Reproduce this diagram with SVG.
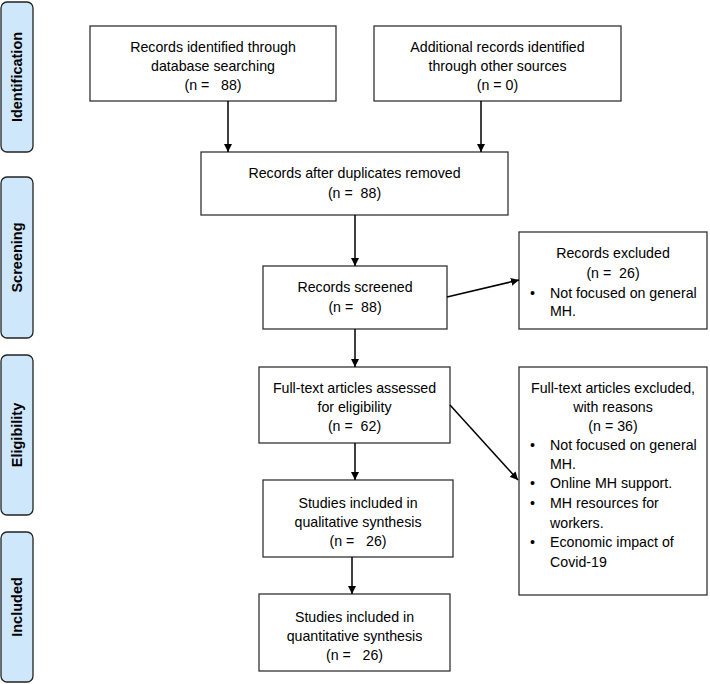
<svg xmlns="http://www.w3.org/2000/svg" width="710" height="684" viewBox="0 0 710 684">
<defs>
<marker id="ah" viewBox="0 0 10 10" refX="10" refY="5" markerWidth="8" markerHeight="8" markerUnits="userSpaceOnUse" orient="auto">
<path d="M0,0 L10,5 L0,10 z" fill="#000"/>
</marker>
<style>
.box{fill:#fff;stroke:#333;stroke-width:1.3}
.side{fill:#cfe7fb;stroke:#222;stroke-width:1.3}
.t{font-family:"Liberation Sans",Arial,sans-serif;font-size:14.2px;fill:#000;text-anchor:middle;white-space:pre}
.l{font-family:"Liberation Sans",Arial,sans-serif;font-size:14.2px;fill:#000;white-space:pre}
.s{font-family:"Liberation Sans",Arial,sans-serif;font-size:14.5px;font-weight:bold;fill:#000;text-anchor:middle}
.c{stroke:#000;stroke-width:1.5;fill:none;marker-end:url(#ah)}
</style>
</defs>
<rect width="710" height="684" fill="#fff"/>
<g id="side-identification"><rect class="side" x="1" y="2" width="32" height="150" rx="6"/><text class="s" transform="translate(22,77) rotate(-90)">Identification</text></g>
<g id="side-screening"><rect class="side" x="1" y="177" width="32" height="161" rx="6"/><text class="s" transform="translate(22,257.5) rotate(-90)">Screening</text></g>
<g id="side-eligibility"><rect class="side" x="1" y="355" width="32" height="160" rx="6"/><text class="s" transform="translate(22,435) rotate(-90)">Eligibility</text></g>
<g id="side-included"><rect class="side" x="1" y="532" width="32" height="150" rx="6"/><text class="s" transform="translate(22,607) rotate(-90)">Included</text></g>

<g id="n1"><rect class="box" x="90" y="26" width="246" height="75"/>
<text class="t" x="213" y="52">Records identified through</text>
<text class="t" x="213" y="71">database searching</text>
<text class="t" x="213" y="90">(n =   88)</text></g>
<g id="n2"><rect class="box" x="374" y="26" width="247" height="75"/>
<text class="t" x="497.5" y="52">Additional records identified</text>
<text class="t" x="497.5" y="71">through other sources</text>
<text class="t" x="497.5" y="90">(n = 0)</text></g>
<g id="n3"><rect class="box" x="201" y="152" width="307" height="63"/>
<text class="t" x="354.5" y="178">Records after duplicates removed</text>
<text class="t" x="354.5" y="198">(n =  88)</text></g>
<g id="n4"><rect class="box" x="263" y="266" width="184" height="63"/>
<text class="t" x="355" y="292">Records screened</text>
<text class="t" x="355" y="312">(n =  88)</text></g>
<g id="n5"><rect class="box" x="519" y="232" width="188" height="97"/>
<text class="t" x="613" y="258">Records excluded</text>
<text class="t" x="613" y="278">(n =  26)</text>
<text class="l" x="530" y="298">•</text>
<text class="l" x="550" y="298">Not focused on general</text>
<text class="l" x="550" y="316">MH.</text></g>
<g id="n6"><rect class="box" x="259" y="367" width="191" height="76"/>
<text class="t" x="354.5" y="393">Full-text articles assessed</text>
<text class="t" x="354.5" y="412">for eligibility</text>
<text class="t" x="354.5" y="431">(n =  62)</text></g>
<g id="n7"><rect class="box" x="519" y="367" width="188" height="228"/>
<text class="t" x="613" y="393">Full-text articles excluded,</text>
<text class="t" x="613" y="412">with reasons</text>
<text class="t" x="613" y="431">(n = 36)</text>
<text class="l" x="530" y="450">•</text>
<text class="l" x="550" y="450">Not focused on general</text>
<text class="l" x="550" y="469">MH.</text>
<text class="l" x="530" y="488">•</text>
<text class="l" x="550" y="488">Online MH support.</text>
<text class="l" x="530" y="508">•</text>
<text class="l" x="550" y="508">MH resources for</text>
<text class="l" x="550" y="528">workers.</text>
<text class="l" x="530" y="547">•</text>
<text class="l" x="550" y="547">Economic impact of</text>
<text class="l" x="550" y="567">Covid-19</text></g>
<g id="n8"><rect class="box" x="263" y="480" width="190" height="77"/>
<text class="t" x="358" y="508">Studies included in</text>
<text class="t" x="358" y="527">qualitative synthesis</text>
<text class="t" x="358" y="546">(n =   26)</text></g>
<g id="n9"><rect class="box" x="259" y="594" width="191" height="77"/>
<text class="t" x="354.5" y="622">Studies included in</text>
<text class="t" x="354.5" y="641">quantitative synthesis</text>
<text class="t" x="354.5" y="660">(n =   26)</text></g>

<g id="connectors">
<line class="c" x1="228" y1="101" x2="228" y2="152"/>
<line class="c" x1="481" y1="101" x2="481" y2="152"/>
<line class="c" x1="355" y1="215" x2="355" y2="266"/>
<line class="c" x1="447" y1="297" x2="519" y2="280"/>
<line class="c" x1="355" y1="329" x2="355" y2="367"/>
<line class="c" x1="450" y1="405" x2="518" y2="480"/>
<line class="c" x1="355" y1="443" x2="355" y2="480"/>
<line class="c" x1="352" y1="557" x2="352" y2="594"/>
</g>
</svg>
